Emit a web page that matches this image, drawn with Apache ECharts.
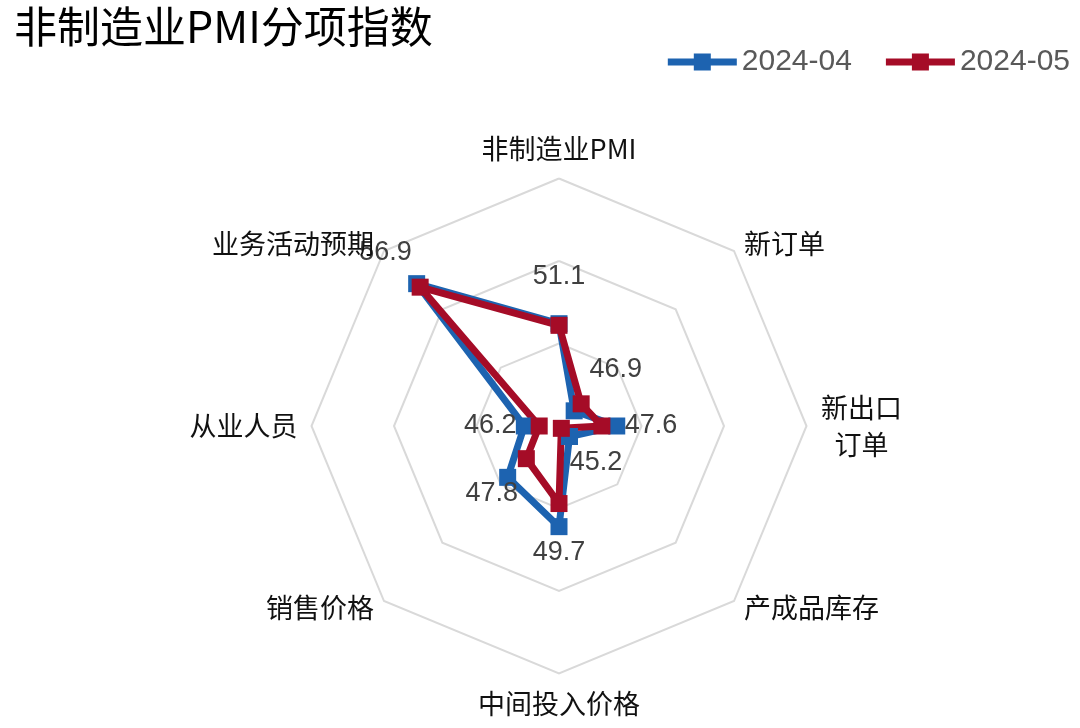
<!DOCTYPE html>
<html><head><meta charset="utf-8">
<script src="https://cdn.jsdelivr.net/npm/echarts@6/dist/echarts.min.js"></script>
<style>html,body{margin:0;padding:0;background:#fff}#c{width:1080px;height:728px}</style>
</head><body><div id="c"></div>
<script>
// ---- data ----
const categories = ['非制造业PMI', '新订单', '新出口订单', '产成品库存', '中间投入价格', '销售价格', '从业人员', '业务活动预期'];
const seriesNames = ['2024-04', '2024-05'];
const apr = [51.2, 46.3, 48.5, 45.9, 51.1, 49.4, 47.1, 57.2];
const may = [51.1, 46.9, 47.6, 45.2, 49.7, 47.8, 46.2, 56.9];
const scaleMin = 45, scaleMax = 60, splitCount = 3;

// ---- layout / style ----
const CENTER = [559, 426], RADIUS = 247.5;
const BLUE = '#1D63B0', RED = '#A50C27';
const CJK = "'Noto Sans CJK SC', sans-serif";
const LAT = "'Liberation Sans', Arial, sans-serif";

// ECharts radar places indicators counterclockwise; reorder so they read clockwise
const n = categories.length;
const order = categories.map((_, i) => (n - i) % n);
const reorder = arr => order.map(i => arr[i]);
const ang = i => i * 2 * Math.PI / n;

const legendIcon = 'path://M0,5L26,5L26,0L43,0L43,5L69,5L69,12L43,12L43,17L26,17L26,12L0,12Z';

const chart = echarts.init(document.getElementById('c'));
chart.setOption({
  animation: false,
  backgroundColor: '#fff',
  title: {
    text: '非制造业PMI分项指数',
    left: 9, top: 0,
    textStyle: { fontFamily: CJK, fontSize: 43, fontWeight: 'normal', color: '#000' }
  },
  legend: {
    data: seriesNames,
    right: 5, top: 42,
    itemWidth: 69, itemHeight: 17, itemGap: 34,
    icon: legendIcon,
    textStyle: { fontFamily: LAT, fontSize: 30, color: '#595959' }
  },
  radar: {
    center: CENTER, radius: RADIUS, startAngle: 90, shape: 'polygon',
    splitNumber: splitCount,
    indicator: order.map(i => ({ name: categories[i], min: scaleMin, max: scaleMax })),
    axisName: { show: false },
    axisLine: { show: false },
    axisTick: { show: false },
    axisLabel: { show: false },
    splitArea: { show: false },
    splitLine: { lineStyle: { color: '#D9D9D9', width: 2 } }
  },
  polar: { center: CENTER, radius: RADIUS },
  angleAxis: { type: 'category', data: categories, startAngle: 90, clockwise: true, boundaryGap: false, show: false },
  radiusAxis: { type: 'value', min: scaleMin, max: scaleMax, show: false },
  series: [
    {
      type: 'radar',
      symbol: 'rect', symbolSize: 17,
      data: [
        { name: seriesNames[0], value: reorder(apr),
          itemStyle: { color: BLUE }, lineStyle: { color: BLUE, width: 7 } },
        { name: seriesNames[1], value: reorder(may),
          itemStyle: { color: RED }, lineStyle: { color: RED, width: 7 } }
      ]
    },
    {
      // value labels for 2024-05
      type: 'scatter', coordinateSystem: 'polar', symbolSize: 1,
      itemStyle: { color: 'transparent' }, silent: true, z: 5,
      label: { show: true, position: 'inside', formatter: p => p.value[0].toFixed(1),
               fontFamily: LAT, fontSize: 27, color: '#404040', opacity: 1 },
      data: may.map((v, i) => ({
        value: [v, i],
        label: { offset: [49 * Math.sin(ang(i)), -49 * Math.cos(ang(i))] }
      }))
    },
    {
      // indicator names
      type: 'scatter', coordinateSystem: 'polar', symbolSize: 1,
      itemStyle: { color: 'transparent' }, silent: true, z: 5,
      label: {
        show: true, position: 'inside',
        fontFamily: CJK, fontSize: 27, color: '#111', opacity: 1,
        formatter: p => p.name === '新出口订单' ? '{c|新出口}\n{c|订单}' : p.name,
        rich: { c: { width: 82, align: 'center', fontFamily: CJK, fontSize: 27, lineHeight: 37, color: '#111' } }
      },
      data: categories.map((name, i) => {
        const s = Math.sin(ang(i)), c = Math.cos(ang(i));
        const side = Math.abs(s) < 0.1;
        return {
          name: name,
          value: [scaleMax, i],
          label: {
            align: s > 0.1 ? 'left' : (s < -0.1 ? 'right' : 'center'),
            verticalAlign: 'middle',
            offset: [s * 14, -c * (side ? 30 : 10)]
          }
        };
      })
    }
  ]
});
</script>
</body></html>
